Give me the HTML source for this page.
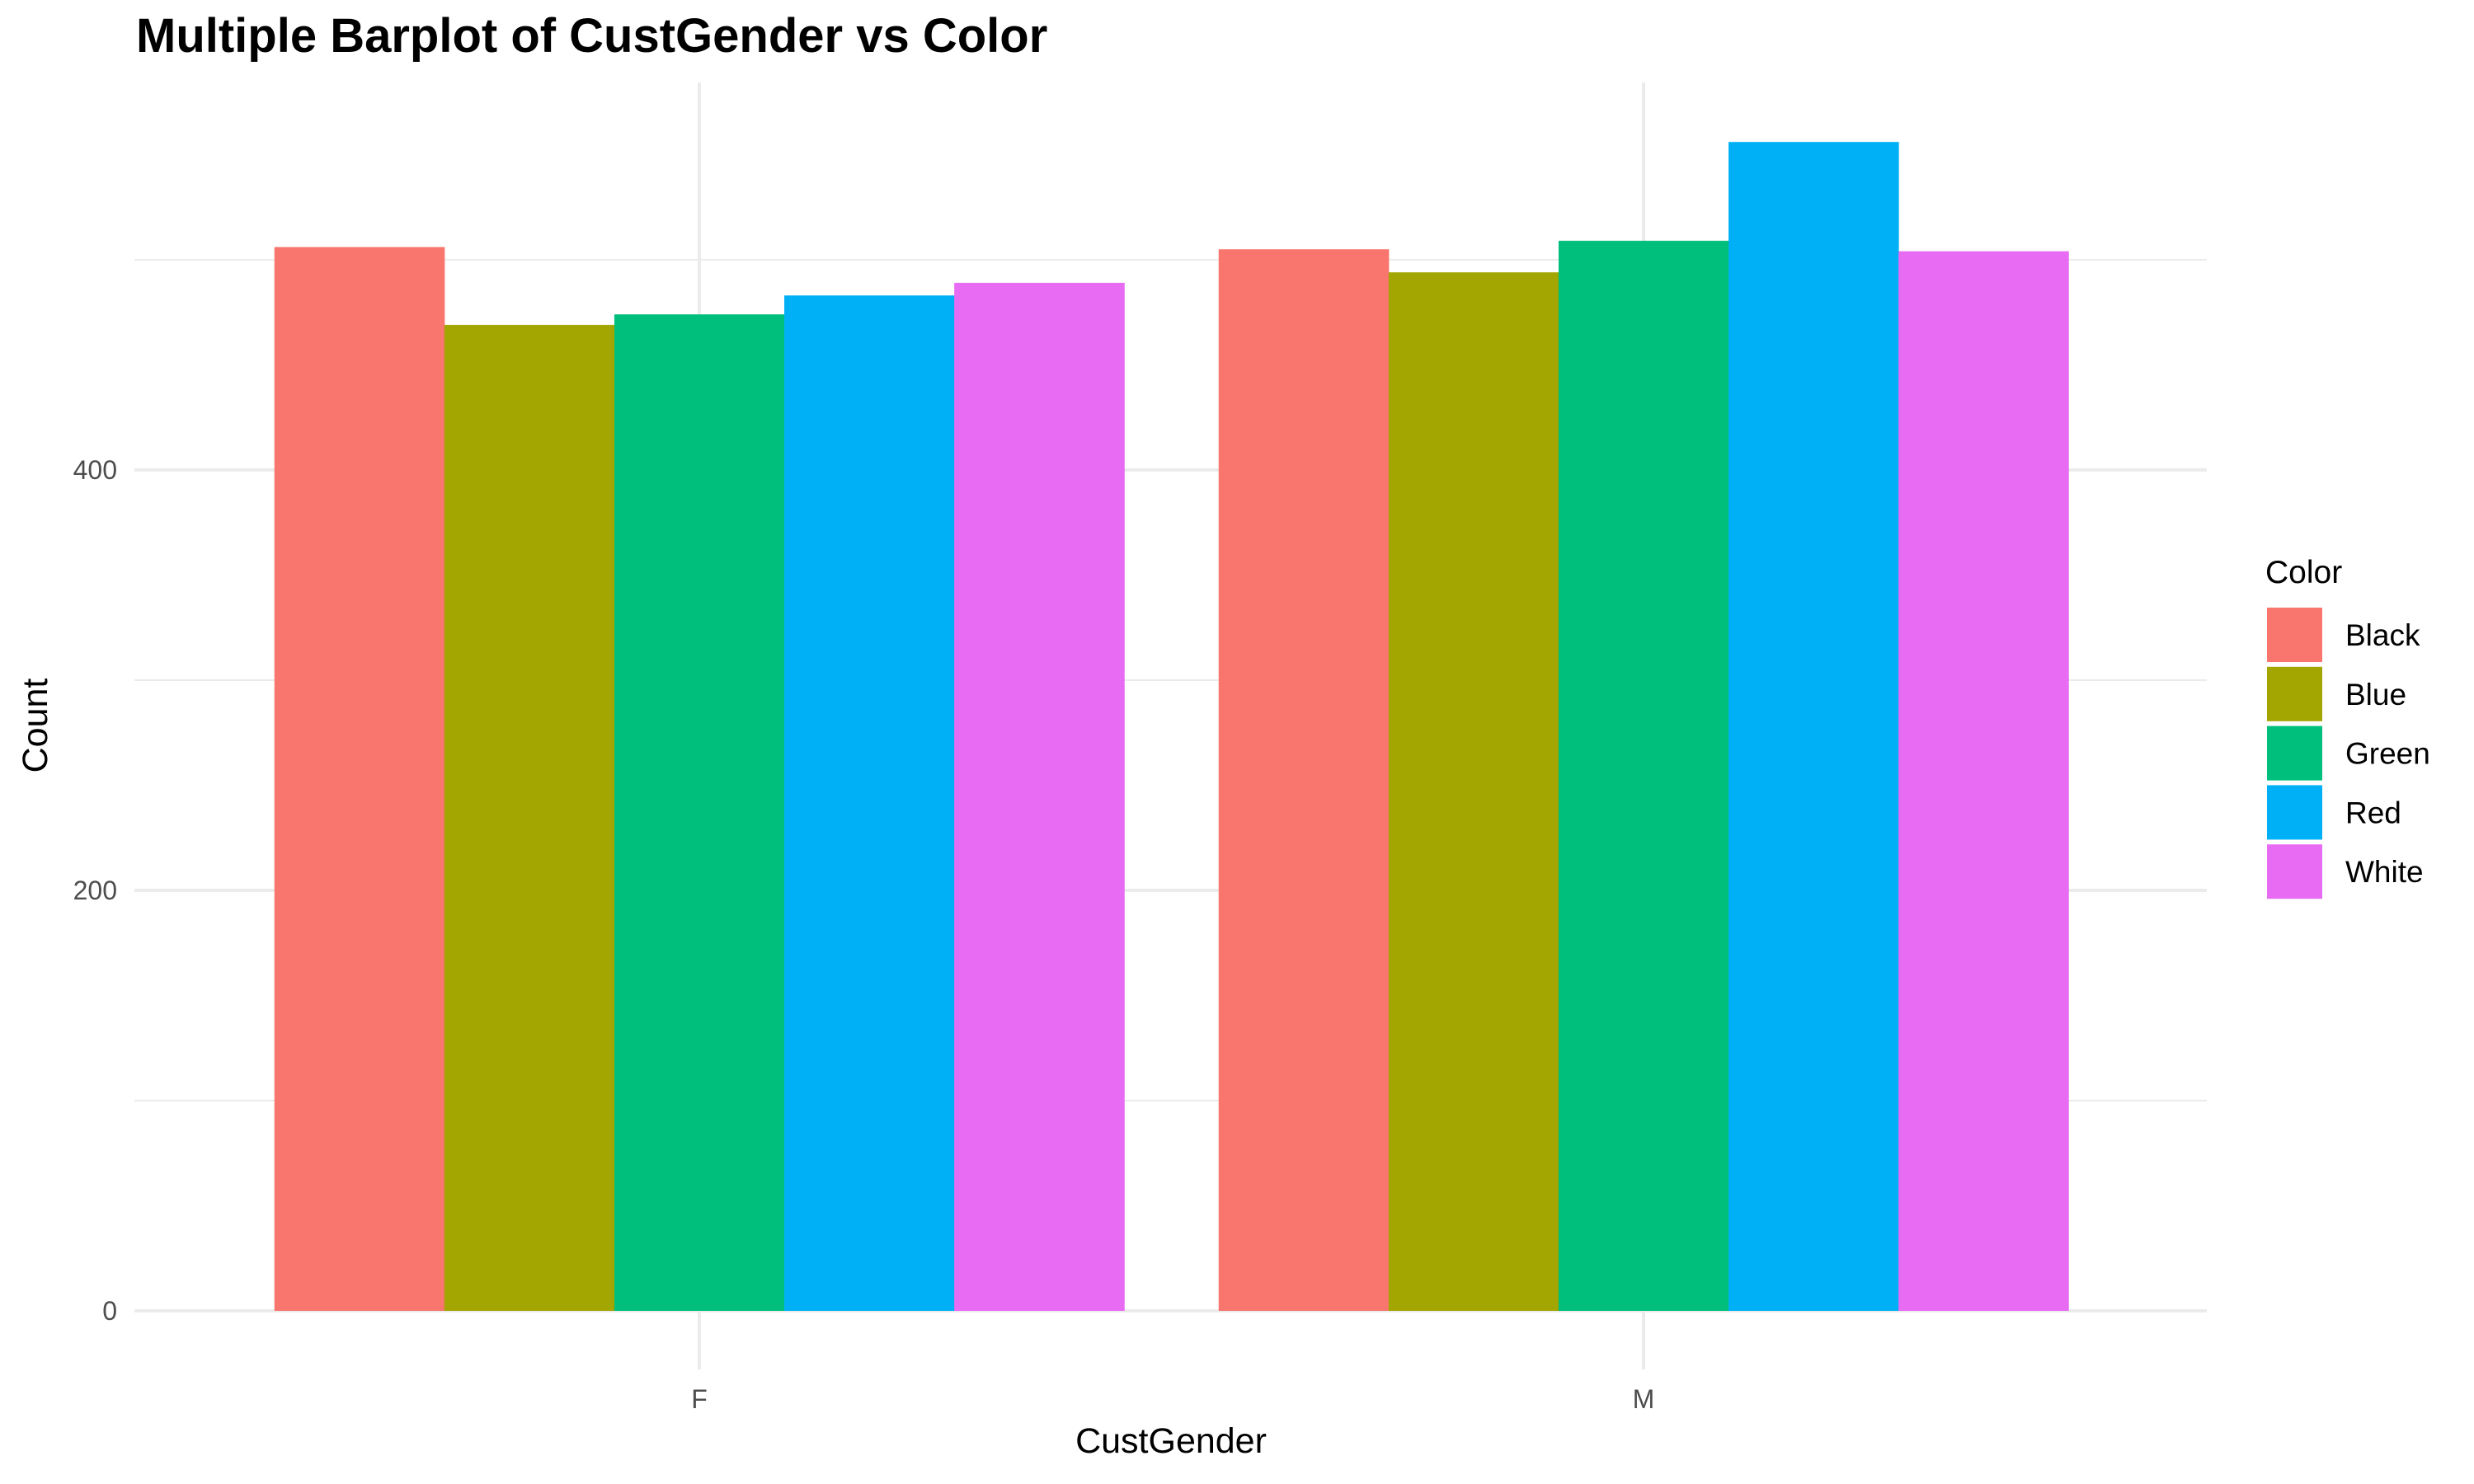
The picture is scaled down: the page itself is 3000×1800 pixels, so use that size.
<!DOCTYPE html>
<html><head><meta charset="utf-8"><style>body{margin:0;background:#fff}svg{display:block}</style></head>
<body>
<svg id="chart" width="3000" height="1800" xmlns="http://www.w3.org/2000/svg" font-family="Liberation Sans, sans-serif">
<text x="165" y="63" font-size="58" font-weight="bold" fill="#000">Multiple Barplot of CustGender vs Color</text>
<g id="grid"></g><g id="bars"></g><g id="axes"></g><g id="legend"></g>
<text x="1420" y="1762" font-size="43" text-anchor="middle" fill="#000">CustGender</text>
<text x="0" y="0" transform="translate(57,880) rotate(-90)" font-size="43" text-anchor="middle" fill="#000">Count</text>
</svg>
<script>
const categories = ["F", "M"];
const seriesNames = ["Black", "Blue", "Green", "Red", "White"];
const seriesColors = ["#F8766D", "#A3A500", "#00BF7D", "#00B0F6", "#E76BF3"];
const valuesF = [506, 469, 474, 483, 489];
const valuesM = [505, 494, 509, 556, 504];
const yTicks = [0, 200, 400];
const yMinor = [100, 300, 500];

const NS = "http://www.w3.org/2000/svg";
const panelL = 163, panelR = 2676, panelT = 100, panelB = 1661;
const y0 = 1590, pxPerUnit = 2.55;
const yScale = v => y0 - v * pxPerUnit;
const catCenter = i => 848 + i * 1145;
const catWidth = 1145 * 0.9;
function mk(tag, attrs, parent) {
  const el = document.createElementNS(NS, tag);
  for (const k in attrs) el.setAttribute(k, attrs[k]);
  parent.appendChild(el);
  return el;
}
const grid = document.getElementById('grid');
yMinor.forEach(v => {
  const l = mk('line', {x1: panelL, x2: panelR, y1: yScale(v), y2: yScale(v), stroke: '#ebebeb', 'stroke-width': 2}, grid);
  
  
});
yTicks.forEach(v => {
  const l = mk('line', {x1: panelL, x2: panelR, y1: yScale(v), y2: yScale(v), stroke: '#ebebeb', 'stroke-width': 4}, grid);
  
  
});
categories.forEach((c, i) => {
  const l = mk('line', {x1: catCenter(i), x2: catCenter(i), y1: panelT, y2: panelB, stroke: '#ebebeb', 'stroke-width': 4}, grid);
  
  
});
const bars = document.getElementById('bars');
const allVals = [valuesF, valuesM];
categories.forEach((c, i) => {
  const bw = catWidth / seriesNames.length;
  const start = catCenter(i) - catWidth / 2;
  allVals[i].forEach((v, j) => {
    const r = mk('rect', {x: start + j * bw, y: yScale(v), width: bw + 0.5, height: y0 - yScale(v), fill: seriesColors[j]}, bars);
    
    
  });
});
const axes = document.getElementById('axes');
yTicks.forEach(v => {
  const t = mk('text', {x: 142, y: yScale(v) + 11, 'font-size': 32, 'text-anchor': 'end', fill: '#4d4d4d'}, axes);
  t.textContent = v;
  
  
});
categories.forEach((c, i) => {
  const t = mk('text', {x: catCenter(i), y: 1708, 'font-size': 32, 'text-anchor': 'middle', fill: '#4d4d4d'}, axes);
  t.textContent = c;
  
  
});
const legend = document.getElementById('legend');
const lt = mk('text', {x: 2747, y: 707, 'font-size': 39, fill: '#000'}, legend);
lt.textContent = 'Color';


seriesNames.forEach((n, j) => {
  const ky = 737 + j * 71.8;
  const k = mk('rect', {x: 2749, y: ky, width: 67, height: 66, fill: seriesColors[j]}, legend);
  
  
  const t = mk('text', {x: 2844, y: ky + 46, 'font-size': 37, fill: '#000'}, legend);
  t.textContent = n;
  
  
});
</script>
</body></html>
